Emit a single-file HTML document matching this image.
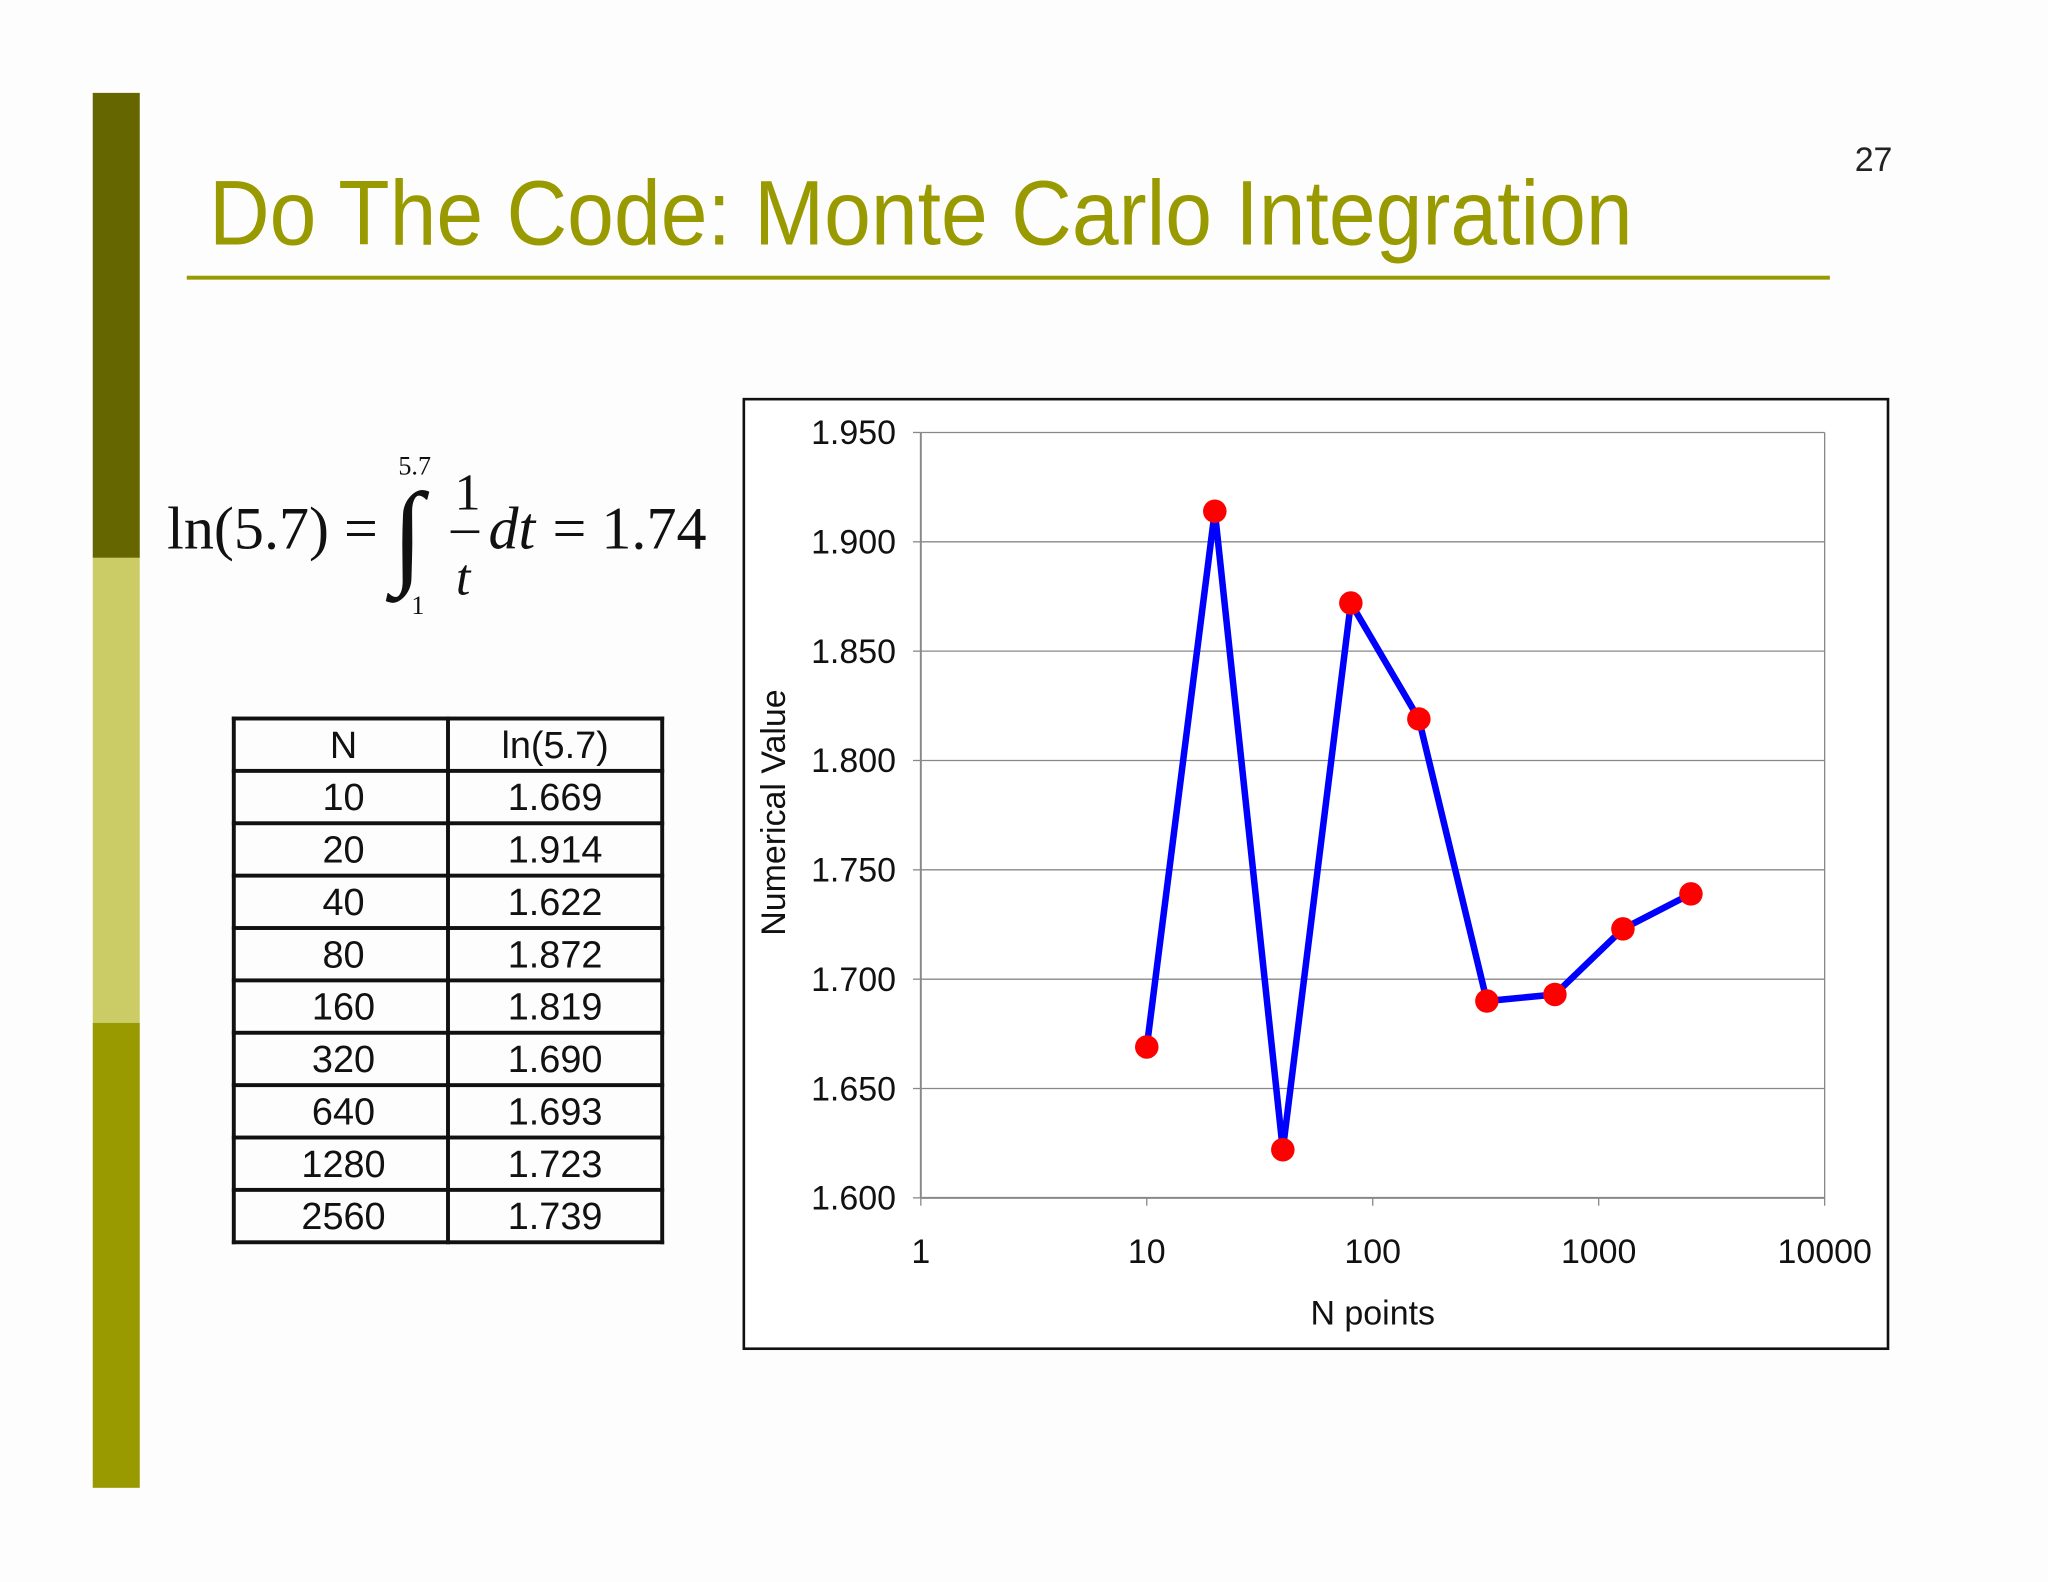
<!DOCTYPE html>
<html><head><meta charset="utf-8"><style>
html,body{margin:0;padding:0;background:#fff;}
svg{display:block;}
</style></head><body>
<svg id="slide" width="2048" height="1582" viewBox="0 0 1568 1211" xmlns="http://www.w3.org/2000/svg" font-family="Liberation Sans, sans-serif">
<rect width="1568" height="1211" fill="#fdfdfd"/>
<g>
<rect x="71" y="71" width="36" height="356" fill="#666600"/>
<rect x="71" y="427" width="36" height="356" fill="#cccc66"/>
<rect x="71" y="783" width="36" height="356" fill="#999900"/>
</g>
<text x="160" y="187" font-size="70" fill="#999900" textLength="1090" lengthAdjust="spacingAndGlyphs">Do The Code: Monte Carlo Integration</text>
<rect x="143" y="211" width="1258" height="3" fill="#999900"/>
<text x="1420" y="131" font-size="26" fill="#222">27</text>
<g font-family="Liberation Serif, serif" fill="#111">
<text x="128" y="420" font-size="46">ln(5.7) =</text>
<text x="305" y="363" font-size="20">5.7</text>
<text x="300" y="438" font-size="88" font-style="italic">∫</text>
<text x="315" y="470" font-size="20">1</text>
<text x="348" y="390" font-size="40">1</text>
<rect x="345" y="406" width="22" height="2" fill="#111"/>
<text x="349" y="455" font-size="40" font-style="italic">t</text>
<text x="374" y="420" font-size="46" font-style="italic">dt</text>
<text x="423" y="420" font-size="46">= 1.74</text>
</g>
<g id="table" font-size="29" fill="#111" text-anchor="middle"></g>
<rect x="569.5" y="305.5" width="876" height="727" fill="#fff" stroke="#111" stroke-width="2"/>
<g id="chart"></g>
<script>
const nVals=[10,20,40,80,160,320,640,1280,2560];
const lnVals=[1.669,1.914,1.622,1.872,1.819,1.690,1.693,1.723,1.739];
const yTicks=[1.600,1.650,1.700,1.750,1.800,1.850,1.900,1.950];
const xTicks=[1,10,100,1000,10000];
const NS="http://www.w3.org/2000/svg";
function mk(tag,attrs,parent,txt){const e=document.createElementNS(NS,tag);for(const k in attrs)e.setAttribute(k,attrs[k]);if(txt!==undefined)e.textContent=txt;parent.appendChild(e);return e;}
const tb=document.getElementById('table');
const tx0=179,tx1=343,tx2=507,ty0=550,rh=40.1;
const rows=[["N","ln(5.7)"]].concat(nVals.map((n,i)=>[String(n),lnVals[i].toFixed(3)]));
rows.forEach((r,i)=>{
 const y=ty0+i*rh;
 const c1=mk('text',{x:(tx0+tx1)/2+2,y:y+rh/2+10},tb,r[0]);
 
 
 const c2=mk('text',{x:(tx1+tx2)/2,y:y+rh/2+10},tb,r[1]);
 
 
});
for(let i=0;i<=rows.length;i++){mk('rect',{x:tx0-1.5,y:ty0+i*rh-1.5,width:tx2-tx0+3,height:3,fill:'#111'},tb);}
[tx0,tx1,tx2].forEach(x=>mk('rect',{x:x-1.5,y:ty0-1.5,width:3,height:rows.length*rh+3,fill:'#111'},tb));
const ch=document.getElementById('chart');
const px0=705,px1=1397,py0=917,py1=331;
const X=v=>px0+(Math.log10(v)-0)/4*(px1-px0);
const Y=v=>py0-(v-1.6)/(0.35)*(py0-py1);
yTicks.forEach(t=>{
 if(t>1.6) mk('line',{x1:px0,x2:px1,y1:Y(t),y2:Y(t),stroke:'#888','stroke-width':1},ch);
 mk('line',{x1:px0-6,x2:px0,y1:Y(t),y2:Y(t),stroke:'#888'},ch);
 const l=mk('text',{x:px0-19,y:Y(t)+9,'font-size':26,'text-anchor':'end',fill:'#111'},ch,t.toFixed(3));
 
 
});
mk('line',{x1:px1,x2:px1,y1:py1,y2:py0,stroke:'#888'},ch);
mk('line',{x1:px0,x2:px0,y1:py1,y2:py0,stroke:'#888','stroke-width':1.5},ch);
mk('line',{x1:px0,x2:px1,y1:py0,y2:py0,stroke:'#888','stroke-width':1.5},ch);
xTicks.forEach(t=>{
 mk('line',{x1:X(t),x2:X(t),y1:py0,y2:py0+6,stroke:'#888'},ch);
 const l=mk('text',{x:X(t),y:967,'font-size':26,'text-anchor':'middle',fill:'#111'},ch,String(t));
 
 
});
const xt=mk('text',{x:1051,y:1014,'font-size':26,'text-anchor':'middle',fill:'#111'},ch,'N points');


const yt=mk('text',{x:0,y:0,'font-size':26,'text-anchor':'middle',fill:'#111',transform:'translate(601,622) rotate(-90)'},ch,'Numerical Value');


const line=mk('polyline',{points:nVals.map((n,i)=>X(n)+','+Y(lnVals[i])).join(' '),fill:'none',stroke:'#0000ff','stroke-width':5,'stroke-linejoin':'miter'},ch);


nVals.forEach((n,i)=>{
 const c=mk('circle',{cx:X(n),cy:Y(lnVals[i]),r:9,fill:'#ff0000'},ch);
 
 
});
</script>
</svg>
</body></html>
